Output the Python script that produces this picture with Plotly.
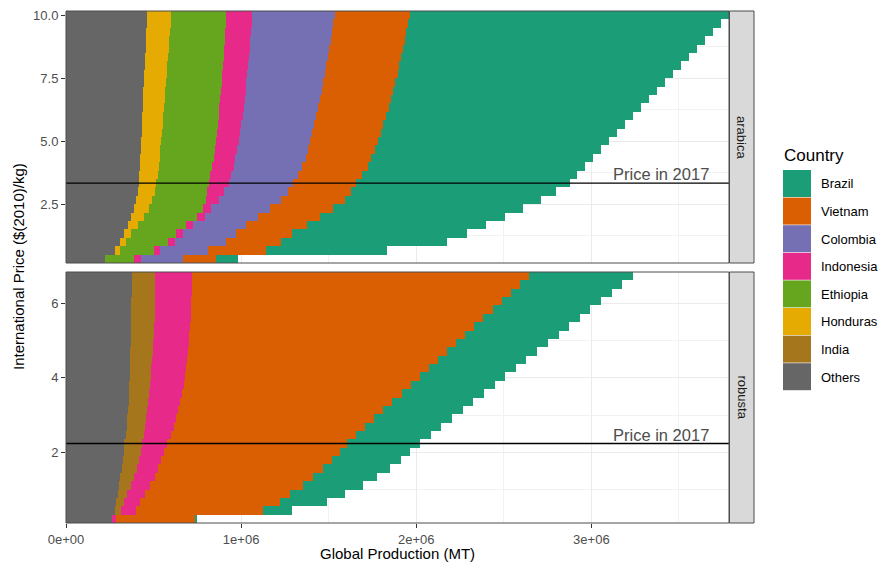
import plotly.graph_objects as go
from plotly.subplots import make_subplots

# ---------------- data (production in thousand MT) ----------------
countries = ["Brazil", "Vietnam", "Colombia", "Indonesia", "Ethiopia", "Honduras", "India", "Others"]
colors = ["#1B9E77", "#D95F02", "#7570B3", "#E7298A", "#66A61E", "#E6AB02", "#A6761D", "#666666"]

arabica_price = [0.333, 0.667, 1.0, 1.333, 1.667, 2.0, 2.333, 2.667, 3.0, 3.333,
                 3.667, 4.0, 4.333, 4.667, 5.0, 5.333, 5.667, 6.0, 6.333, 6.667,
                 7.0, 7.333, 7.667, 8.0, 8.333, 8.667, 9.0, 9.333, 9.667, 10.0]
arabica_others = [220, 277, 311, 334, 353, 372, 391, 401, 410, 416, 419, 422, 425, 428, 430,
                  432, 434, 436, 438, 439, 442, 444, 446, 449, 452, 454, 456, 458, 460, 462]
arabica_honduras = [0, 34, 33, 38, 57, 71, 82, 91, 96, 99, 104, 107, 109, 111, 114,
                    116, 118, 120, 123, 126, 126, 128, 129, 130, 130, 132, 134, 136, 137, 139]
arabica_ethiopia = [166, 189, 238, 258, 277, 307, 309, 309, 301, 299, 302, 306, 309, 312, 314,
                    314, 314, 315, 315, 316, 317, 316, 316, 316, 318, 317, 316, 315, 315, 314]
arabica_indonesia = [40, 38, 40, 40, 40, 45, 48, 72, 93, 115, 119, 122, 124, 127, 130,
                     133, 135, 137, 138, 139, 140, 142, 144, 145, 145, 146, 147, 148, 148, 149]
arabica_colombia = [242, 273, 293, 303, 303, 301, 333, 357, 368, 367, 380, 393, 401, 404, 407,
                    411, 416, 420, 425, 429, 434, 439, 443, 447, 451, 455, 459, 462, 467, 470]
arabica_vietnam = [190, 333, 315, 317, 345, 353, 362, 362, 362, 362, 368, 375, 376, 381, 387,
                   391, 396, 400, 404, 409, 411, 412, 415, 417, 419, 420, 422, 425, 426, 429]
arabica_brazil = [122, 687, 944, 999, 1022, 1057, 1084, 1119, 1167, 1219, 1225, 1238, 1265, 1291, 1318,
                  1349, 1378, 1409, 1440, 1471, 1504, 1539, 1573, 1607, 1642, 1679, 1715, 1750, 1787, 1823]

robusta_price = [0.224, 0.448, 0.672, 0.896, 1.12, 1.344, 1.568, 1.792, 2.016, 2.24,
                 2.464, 2.688, 2.912, 3.136, 3.36, 3.584, 3.808, 4.032, 4.256, 4.48,
                 4.704, 4.928, 5.152, 5.376, 5.6, 5.824, 6.048, 6.272, 6.496, 6.72]
robusta_others = [264, 277, 287, 296, 304, 311, 318, 325, 330, 334, 341, 348, 351, 354, 357,
                  359, 361, 363, 365, 367, 368, 369, 370, 371, 372, 373, 374, 375, 376, 376]
robusta_india = [0, 38, 46, 54, 67, 80, 86, 91, 96, 101, 103, 104, 106, 109, 111,
                 114, 118, 121, 123, 125, 127, 129, 131, 132, 134, 134, 134, 134, 134, 135]
robusta_indonesia = [19, 82, 90, 99, 107, 115, 121, 128, 135, 143, 153, 164, 171, 177, 184,
                     189, 192, 195, 198, 200, 201, 202, 203, 205, 205, 206, 207, 208, 209, 210]
robusta_vietnam = [451, 726, 797, 828, 873, 903, 941, 973, 1002, 1025, 1057, 1090, 1129, 1169, 1208,
                   1255, 1298, 1341, 1385, 1431, 1478, 1526, 1573, 1621, 1669, 1724, 1774, 1823, 1872, 1922]
robusta_brazil = [12, 166, 269, 314, 343, 365, 383, 394, 400, 417, 429, 434, 446, 457, 463,
                  469, 480, 486, 498, 503, 515, 525, 537, 542, 554, 554, 565, 577, 583, 594]

price_2017 = {"arabica": 3.333, "robusta": 2.24}

x_tickvals = [0, 1e6, 2e6, 3e6]
x_ticktext = ["0e+00", "1e+06", "2e+06", "3e+06"]
arabica_tickvals = [2.5, 5.0, 7.5, 10.0]
arabica_ticktext = ["2.5", "5.0", "7.5", "10.0"]
robusta_tickvals = [2, 4, 6]
robusta_ticktext = ["2", "4", "6"]

# ---------------- figure ----------------
W, H = 885, 575
L, R, T, B = 66, 156, 11, 52
PW, PH = W - L - R, H - T - B
FONT = "Liberation Sans, Arial, Helvetica, sans-serif"


def px_x(p):
    return (p - L) / PW


def px_y(p):
    return (H - B - p) / PH


panels = [
    ("arabica", arabica_price, {"Others": arabica_others, "Honduras": arabica_honduras,
                                "Ethiopia": arabica_ethiopia, "Indonesia": arabica_indonesia,
                                "Colombia": arabica_colombia, "Vietnam": arabica_vietnam,
                                "Brazil": arabica_brazil}),
    ("robusta", robusta_price, {"Others": robusta_others, "India": robusta_india,
                                "Indonesia": robusta_indonesia, "Vietnam": robusta_vietnam,
                                "Brazil": robusta_brazil}),
]
stack_order = ["Others", "India", "Honduras", "Ethiopia", "Indonesia", "Colombia", "Vietnam", "Brazil"]
color_of = dict(zip(countries, colors))

fig = make_subplots(rows=2, cols=1, shared_xaxes=True)

xmax = 0
for row, (name, prices, series) in enumerate(panels, start=1):
    width = prices[1] - prices[0]
    totals = [0] * len(prices)
    for c in stack_order:
        if c not in series:
            continue
        vals = [v * 1000 for v in series[c]]
        totals = [a + b for a, b in zip(totals, vals)]
        fig.add_trace(go.Bar(y=prices, x=vals, orientation="h", name=c, width=width,
                             marker=dict(color=color_of[c], line=dict(width=0)),
                             showlegend=False), row=row, col=1)
    xmax = max(xmax, max(totals))

fig.update_layout(barmode="stack", bargap=0)

axis_common = dict(showline=False, zeroline=False, ticklen=4,
                   tickcolor="#333333", tickwidth=1, gridcolor="#EBEBEB", gridwidth=1,
                   tickfont=dict(family=FONT, size=13, color="#4D4D4D"))
minor_x = dict(tickvals=[0.5e6, 1.5e6, 2.5e6, 3.5e6], showgrid=True,
               gridcolor="#F2F2F2", gridwidth=0.6, ticks="")

ar_w = arabica_price[1] - arabica_price[0]
ro_w = robusta_price[1] - robusta_price[0]

fig.update_layout(
    width=W, height=H, template="none",
    margin=dict(l=L, r=R, t=T, b=B, pad=0),
    paper_bgcolor="white", plot_bgcolor="white",
    font=dict(family=FONT, color="#000000"),
    xaxis=dict(range=[0, xmax], tickvals=x_tickvals, ticktext=x_ticktext, showticklabels=False,
               ticks="", minor=minor_x, **axis_common),
    xaxis2=dict(range=[0, xmax], tickvals=x_tickvals, ticktext=x_ticktext, ticks="outside",
                minor=minor_x, **axis_common),
    yaxis=dict(domain=[px_y(263), 1.0], ticks="outside",
               range=[arabica_price[0] - ar_w / 2, arabica_price[-1] + ar_w / 2],
               tickvals=arabica_tickvals, ticktext=arabica_ticktext,
               minor=dict(tickvals=[1.25, 3.75, 6.25, 8.75], showgrid=True,
                          gridcolor="#F2F2F2", gridwidth=0.6, ticks=""), **axis_common),
    yaxis2=dict(domain=[0.0, px_y(272)], ticks="outside",
                range=[robusta_price[0] - ro_w / 2, robusta_price[-1] + ro_w / 2],
                tickvals=robusta_tickvals, ticktext=robusta_ticktext,
                minor=dict(tickvals=[1, 3, 5], showgrid=True,
                           gridcolor="#F2F2F2", gridwidth=0.6, ticks=""), **axis_common),
)

shapes = []
annotations = []
strip_y = {"arabica": (11, 263), "robusta": (272, 523)}
for i, (name, prices, series) in enumerate(panels):
    xr = "x" if i == 0 else "x2"
    yr = "y" if i == 0 else "y2"
    # price line
    shapes.append(dict(type="line", xref=f"{xr} domain", yref=yr, x0=0, x1=1,
                       y0=price_2017[name], y1=price_2017[name],
                       line=dict(color="#000000", width=1.3), layer="above"))
    annotations.append(dict(xref=f"{xr} domain", yref=yr, x=px_x(711), y=price_2017[name],
                            text="Price in 2017", showarrow=False, xanchor="right",
                            yanchor="bottom", yshift=-2,
                            font=dict(family=FONT, size=16.5, color="#4D4D4D")))
    # panel border
    shapes.append(dict(type="rect", xref=f"{xr} domain", yref=f"{yr} domain",
                       x0=0, x1=1, y0=0, y1=1, line=dict(color="#4D4D4D", width=1),
                       fillcolor="rgba(0,0,0,0)", layer="above"))
    # strip
    y0p, y1p = strip_y[name]
    shapes.append(dict(type="rect", xref="paper", yref="paper",
                       x0=px_x(729.5), x1=px_x(754), y0=px_y(y1p), y1=px_y(y0p),
                       line=dict(color="#4D4D4D", width=1), fillcolor="#D9D9D9", layer="above"))
    annotations.append(dict(xref="paper", yref="paper", x=px_x(742), y=px_y((y0p + y1p) / 2),
                            text=name, showarrow=False, textangle=90,
                            xanchor="center", yanchor="middle",
                            font=dict(family=FONT, size=13, color="#1A1A1A")))

# legend (drawn manually, ggplot style)
annotations.append(dict(xref="paper", yref="paper", x=px_x(782), y=px_y(155), text="Country",
                        showarrow=False, xanchor="left", yanchor="middle",
                        font=dict(family=FONT, size=17, color="#000000")))
key_top = 170.0
key_step = 27.6
for j, (c, col) in enumerate(zip(countries, colors)):
    top = key_top + j * key_step
    shapes.append(dict(type="rect", xref="paper", yref="paper",
                       x0=px_x(783), x1=px_x(811), y0=px_y(top + key_step - 0.6), y1=px_y(top),
                       line=dict(width=0), fillcolor=col))
    annotations.append(dict(xref="paper", yref="paper", x=px_x(819), y=px_y(top + key_step / 2),
                            text=c, showarrow=False, xanchor="left", yanchor="middle",
                            font=dict(family=FONT, size=13, color="#000000")))

# axis titles
annotations.append(dict(xref="paper", yref="paper", x=px_x((L + L + PW) / 2), y=px_y(553),
                        text="Global Production (MT)", showarrow=False,
                        xanchor="center", yanchor="middle",
                        font=dict(family=FONT, size=15, color="#000000")))
annotations.append(dict(xref="paper", yref="paper", x=px_x(18), y=px_y(267),
                        text="International Price ($(2010)/kg)", showarrow=False, textangle=-90,
                        xanchor="center", yanchor="middle",
                        font=dict(family=FONT, size=15, color="#000000")))

fig.update_layout(shapes=shapes, annotations=annotations, showlegend=False)

fig.write_html("out.html", config={"displayModeBar": False},
               post_script="document.body.style.margin='0';")
